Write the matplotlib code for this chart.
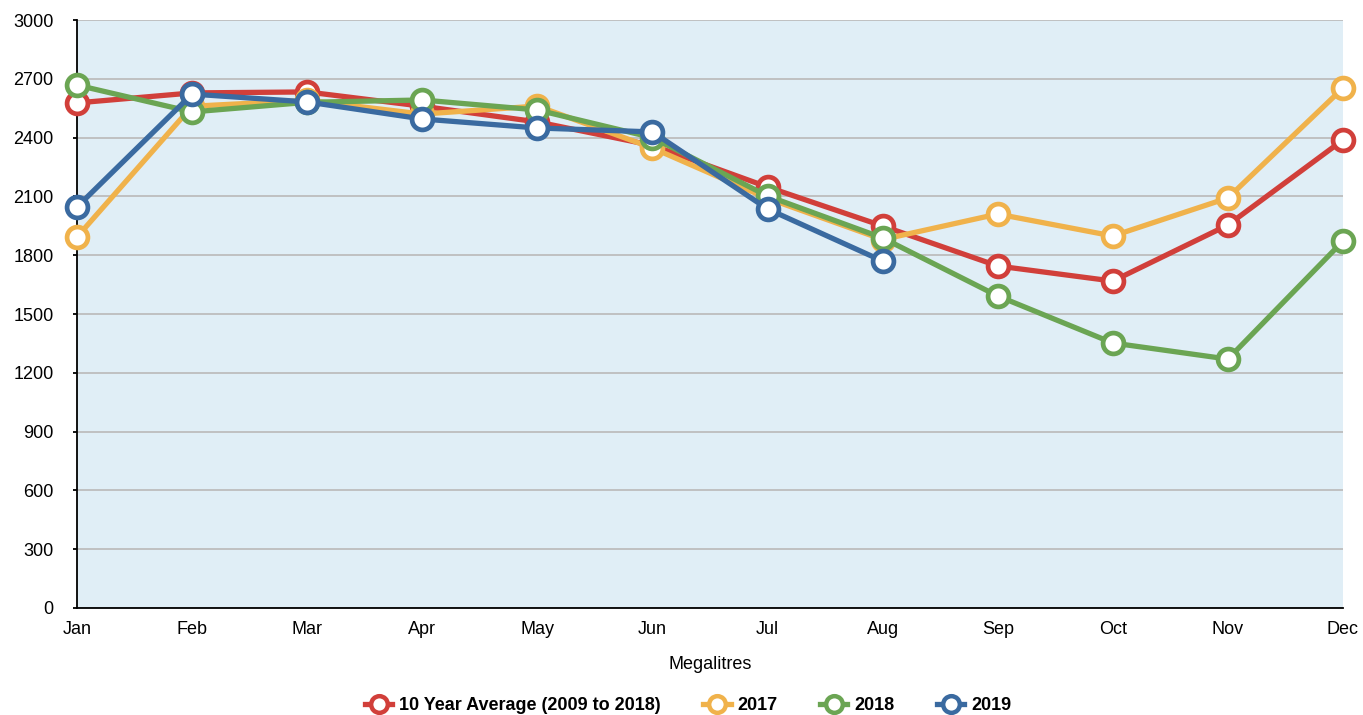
import matplotlib
matplotlib.use("Agg")
import matplotlib.pyplot as plt

months = ["Jan", "Feb", "Mar", "Apr", "May", "Jun", "Jul", "Aug", "Sep", "Oct", "Nov", "Dec"]
avg_10yr = [2577, 2628, 2633, 2560, 2480, 2360, 2148, 1949, 1745, 1668, 1954, 2388]
y2017 = [1893, 2560, 2590, 2520, 2561, 2347, 2090, 1880, 2010, 1898, 2092, 2653]
y2018 = [2668, 2531, 2580, 2592, 2541, 2400, 2102, 1888, 1592, 1352, 1270, 1872]
y2019 = [2046, 2622, 2582, 2495, 2449, 2429, 2036, 1770]

series = [
    ("10 Year Average (2009 to 2018)", avg_10yr, "#d13f3a"),
    ("2017", y2017, "#f0b24b"),
    ("2018", y2018, "#6ba553"),
    ("2019", y2019, "#3a6aa0"),
]

plt.rcParams['font.family'] = ['Liberation Sans', 'DejaVu Sans']

fig = plt.figure(figsize=(13.63, 7.15), dpi=100)
ax = fig.add_axes([77/1363, 1 - 608/715, (1343-77)/1363, (608-20)/715])
ax.set_facecolor("#e0eef6")

for i, (name, vals, col) in enumerate(series):
    ax.plot(range(len(vals)), vals, color=col, lw=3.8, marker='o', ms=15,
            mfc='white', mec=col, mew=3.4, label=name, zorder=3 + i,
            solid_joinstyle='round', clip_on=False)

ax.set_xlim(0, 11)
ax.set_ylim(0, 3000)
ax.set_yticks(range(0, 3001, 300))
ax.set_xticks(range(12))
ax.set_xticklabels(months)
ax.yaxis.grid(True, color="#bdbdbd", lw=1.3)
ax.set_axisbelow(True)
for s in ["top", "right"]:
    ax.spines[s].set_visible(False)
ax.spines["left"].set_color("black")
ax.spines["bottom"].set_color("black")
ax.spines["left"].set_linewidth(1.3)
ax.spines["bottom"].set_linewidth(1.3)
ax.tick_params(axis='y', length=3, width=1.3, labelsize=13, pad=14)
ax.tick_params(axis='x', length=0, labelsize=13, pad=9)
ax.set_xlabel("Megalitres", fontsize=13, labelpad=13)

leg = fig.legend(loc='lower center', bbox_to_anchor=(0.505, -0.022), ncol=4, frameon=False,
                 prop={'weight': 'bold', 'size': 13}, handlelength=1.5, columnspacing=2.35,
                 handletextpad=0.4)
for h in leg.legend_handles:
    h.set_markersize(12)
    h.set_markeredgewidth(3.2)

fig.savefig("out.png", dpi=100)
